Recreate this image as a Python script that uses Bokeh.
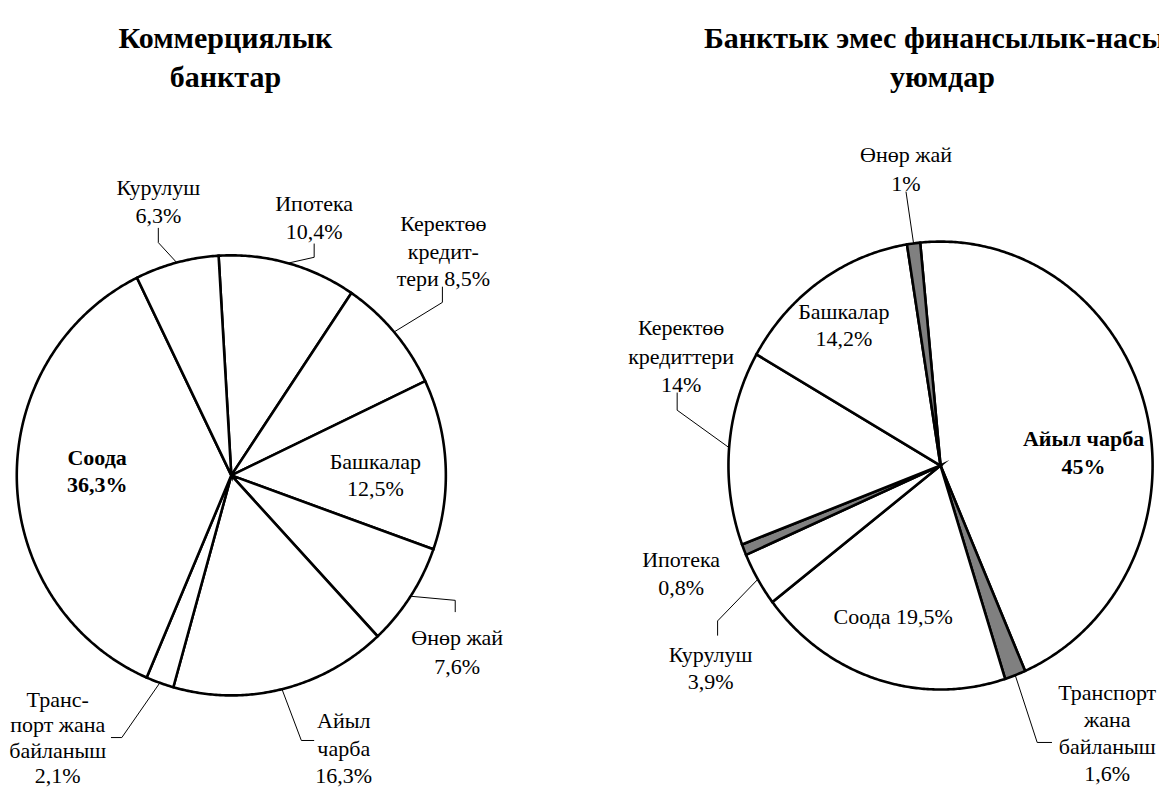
import numpy as np
from bokeh.plotting import figure
from bokeh.models import Range1d
from bokeh.core.properties import value
from bokeh.embed import file_html
from bokeh.resources import INLINE

# ---------------- data ----------------
left_title = ["Коммерциялык", "банктар"]
left_categories = ["Ипотека", "Керектөө кредиттери", "Башкалар", "Өнөр жай",
                   "Айыл чарба", "Транспорт жана байланыш", "Соода", "Курулуш"]
left_values = [10.4, 8.5, 12.5, 7.6, 16.3, 2.1, 36.3, 6.3]
left_colors = ["white", "white", "white", "white", "white", "white", "white", "white"]

right_title = ["Банктык эмес финансылык-насыя", "уюмдар"]
right_categories = ["Айыл чарба", "Транспорт жана байланыш", "Соода", "Курулуш",
                    "Ипотека", "Керектөө кредиттери", "Башкалар", "Өнөр жай"]
right_values = [45, 1.6, 19.5, 3.9, 0.8, 14, 14.2, 1]
right_colors = ["white", "#808080", "white", "white", "#808080", "white", "white", "#808080"]

# label line layout ("{v}" is replaced with the value)
left_label_lines = [["Ипотека", "{v}"], ["Керектөө", "кредит-", "тери {v}"],
                    ["Башкалар", "{v}"], ["Өнөр жай", "{v}"], ["Айыл", "чарба", "{v}"],
                    ["Транс-", "порт жана", "байланыш", "{v}"], ["Соода", "{v}"],
                    ["Курулуш", "{v}"]]
right_label_lines = [["Айыл чарба", "{v}"], ["Транспорт", "жана", "байланыш", "{v}"],
                     ["Соода {v}"], ["Курулуш", "{v}"], ["Ипотека", "{v}"],
                     ["Керектөө", "кредиттери", "{v}"], ["Башкалар", "{v}"],
                     ["Өнөр жай", "{v}"]]

# ---------------- layout ----------------
FONT = "Liberation Serif"
LABEL_SIZE = "22px"
TITLE_SIZE = "30px"
W, H = 1159, 789
# (x, first baseline, line step, bold, leader path after the rim point or None)
left_layout = [
    (318, 207, 29, False, [(318, 262), (318, 248)]),
    (449, 228, 28, False, [(448, 308), (448, 292)]),
    (380, 470, 28, False, None),
    (463, 650, 29, False, [(461, 612), (461, 624)]),
    (348, 735, 28, False, [(305, 755), (318, 755)]),
    (58, 713, 26, False, [(123, 752), (112, 752)]),
    (98, 466, 28, True, None),
    (160, 191, 28, False, [(160, 247), (160, 232)]),
]
right_layout = [
    (1098, 447, 28, True, None),
    (1122, 706, 27.5, False, [(1051, 757), (1066, 757)]),
    (905, 628, 28, False, None),
    (720, 667, 28, False, [(727, 633), (727, 648)]),
    (690, 570, 29, False, None),
    (690, 334, 29, False, [(686, 418), (686, 400)]),
    (855, 317, 28, False, None),
    (918, 157, 30, False, [(918, 195)]),
]
left_geom = dict(cx=234, cy=484.5, rx=217.5, ry=224.5, start=-3.4)
right_geom = dict(cx=953, cy=474.5, rx=215, ry=228.5, start=-5.5)


def fmt(v):
    if float(v).is_integer():
        return f"{int(v)}%"
    return f"{v:.1f}".replace(".", ",") + "%"


p = figure(width=W, height=H, output_backend="svg", toolbar_location=None,
           x_range=Range1d(0, 1175), y_range=Range1d(805, 0),
           min_border=0, outline_line_color=None)
p.axis.visible = False
p.grid.visible = False
p.background_fill_color = "white"


def draw_pie(vals, colors, geom, lines, layout):
    cx, cy, rx, ry, start = geom["cx"], geom["cy"], geom["rx"], geom["ry"], geom["start"]
    total = float(sum(vals))
    cum = start + np.concatenate([[0], np.cumsum(vals)]) / total * 360.0

    def pt(a):
        r = np.radians(a)
        return cx + rx * np.sin(r), cy - ry * np.cos(r)

    xs, ys = [], []
    for a0, a1 in zip(cum[:-1], cum[1:]):
        n = max(3, int((a1 - a0) * 2))
        ang = np.linspace(a0, a1, n)
        px, py = pt(ang)
        xs.append([cx] + list(px))
        ys.append([cy] + list(py))
    p.patches(xs, ys, fill_color=colors, line_color="black", line_width=2.6,
              line_join="miter")

    lx, ly = [], []
    tx, ty, tt, bx, by, bt = [], [], [], [], [], []
    for i, v in enumerate(vals):
        x, y0, step, bold, path = layout[i]
        mid = (cum[i] + cum[i + 1]) / 2
        if path is not None:
            sx, sy = pt(mid)
            lx.append([sx] + [q[0] for q in path])
            ly.append([sy] + [q[1] for q in path])
        for k, s in enumerate(lines[i]):
            s = s.replace("{v}", fmt(v))
            if bold:
                bx.append(x); by.append(y0 + k * step); bt.append(s)
            else:
                tx.append(x); ty.append(y0 + k * step); tt.append(s)
    p.multi_line(lx, ly, line_color="black", line_width=1)
    p.text(tx, ty, text=tt, text_font=value(FONT), text_font_size=LABEL_SIZE,
           text_align="center", text_baseline="alphabetic", text_color="black")
    if bt:
        p.text(bx, by, text=bt, text_font=value(FONT), text_font_size=LABEL_SIZE,
               text_font_style="bold", text_align="center",
               text_baseline="alphabetic", text_color="black")


draw_pie(left_values, left_colors, left_geom, left_label_lines, left_layout)
draw_pie(right_values, right_colors, right_geom, right_label_lines, right_layout)

# titles
p.text([228, 228], [38, 78], text=left_title, text_font=value(FONT),
       text_font_size=TITLE_SIZE, text_font_style="bold", text_align="center",
       text_baseline="alphabetic", text_color="black")
p.text([955, 955], [38, 78], text=right_title, text_font=value(FONT),
       text_font_size=TITLE_SIZE, text_font_style="bold", text_align="center",
       text_baseline="alphabetic", text_color="black")

open("out.html", "w").write(file_html(p, INLINE))
